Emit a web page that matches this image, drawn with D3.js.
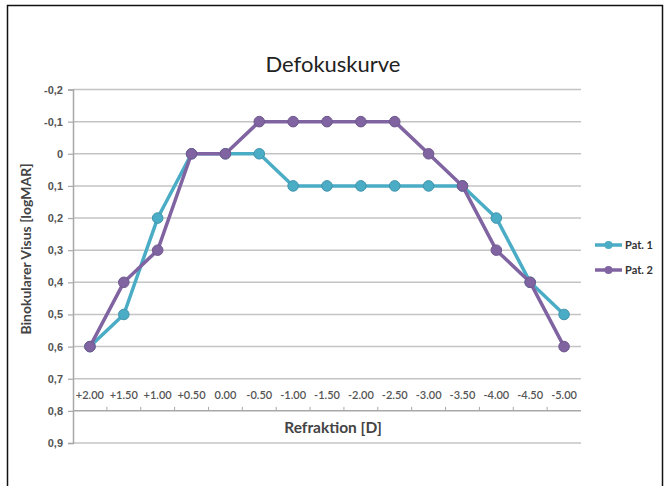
<!DOCTYPE html>
<html><head><meta charset="utf-8">
<script src="https://cdn.jsdelivr.net/npm/d3@7"></script>
<style>
html,body{margin:0;padding:0;background:#fff;}
svg{display:block;font-family:Lato,"Open Sans",sans-serif;}
</style></head>
<body>
<svg id="chart" width="668" height="486"></svg>
<script>
const categories = ["+2.00","+1.50","+1.00","+0.50","0.00","-0.50","-1.00","-1.50","-2.00","-2.50","-3.00","-3.50","-4.00","-4.50","-5.00"];
const pat1 = [0.6,0.5,0.2,0,0,0,0.1,0.1,0.1,0.1,0.1,0.1,0.2,0.4,0.5];
const pat2 = [0.6,0.4,0.3,0,0,-0.1,-0.1,-0.1,-0.1,-0.1,0,0.1,0.3,0.4,0.6];
const yTicks = [-0.2,-0.1,0,0.1,0.2,0.3,0.4,0.5,0.6,0.7,0.8,0.9];
const seriesNames = ["Pat. 1","Pat. 2"];
const colors = ["#4bacc6","#8064a2"];

const svg = d3.select("#chart");
// outer frame
svg.append("rect").attr("x",7.5).attr("y",5.5).attr("width",655).attr("height",490)
  .attr("fill","none").attr("stroke","#111").attr("stroke-width",1.5);

const x = d3.scaleBand().domain(categories).range([73,581]).padding(0);
const y = d3.scaleLinear().domain([-0.2,0.9]).range([89.5,443]);

// gridlines
svg.append("g").selectAll("line").data(yTicks.filter(v=>v!==0.8)).join("line")
  .attr("x1",73).attr("x2",581).attr("y1",d=>y(d)).attr("y2",d=>y(d))
  .attr("stroke","#c4c4c4").attr("stroke-width",1.5);

// y axis
const yAxis = d3.axisLeft(y).tickValues(yTicks).tickSize(5).tickPadding(5)
  .tickFormat(d=>d3.format(".1f")(d).replace(".",",").replace("0,0","0").replace("−","-"));
const gy = svg.append("g").attr("transform","translate(73,0)").call(yAxis);
gy.select(".domain").attr("stroke","#a8a8a8").attr("stroke-width",1.5);
gy.selectAll(".tick line").attr("stroke","#a8a8a8").attr("stroke-width",1.2);
gy.selectAll("text").attr("fill","#555").attr("font-size",11).attr("font-weight",600);

// x axis at 0.8, labels above, ticks at boundaries going up
const gx = svg.append("g");
gx.append("line").attr("x1",73).attr("x2",581).attr("y1",y(0.8)).attr("y2",y(0.8))
  .attr("stroke","#a8a8a8").attr("stroke-width",1.5);
gx.selectAll("line.tk").data(categories.slice(1)).join("line").attr("class","tk")
  .attr("x1",d=>x(d)).attr("x2",d=>x(d)).attr("y1",y(0.8)).attr("y2",y(0.8)-4)
  .attr("stroke","#a8a8a8").attr("stroke-width",1);
gx.selectAll("text").data(categories).join("text")
  .attr("x",d=>x(d)+x.bandwidth()/2).attr("y",y(0.75)+4)
  .attr("text-anchor","middle").attr("fill","#555").attr("font-size",11).attr("font-weight",600)
  .text(d=>d);

// titles
svg.append("text").attr("x",333).attr("y",72).attr("text-anchor","middle")
  .attr("font-size",22).attr("fill","#222").text("Defokuskurve");
svg.append("text").attr("x",333).attr("y",433).attr("text-anchor","middle")
  .attr("font-size",15.5).attr("font-weight",700).attr("fill","#444").text("Refraktion [D]");
svg.append("text").attr("transform","translate(31,249) rotate(-90)").attr("text-anchor","middle")
  .attr("font-size",14).attr("font-weight",700).attr("fill","#444").text("Binokularer Visus [logMAR]");

// series
const line = d3.line().x((d,i)=>x(categories[i])+x.bandwidth()/2).y(d=>y(d));
[pat1,pat2].forEach((s,k)=>{
  svg.append("path").datum(s).attr("d",line).attr("fill","none")
    .attr("stroke",colors[k]).attr("stroke-width",3.5).attr("stroke-linejoin","round");
  svg.append("g").selectAll("circle").data(s).join("circle")
    .attr("cx",(d,i)=>x(categories[i])+x.bandwidth()/2).attr("cy",d=>y(d)).attr("r",5.3)
    .attr("fill",colors[k]).attr("stroke",d3.color(colors[k]).darker(0.4)).attr("stroke-width",1);
});

// legend
const leg = svg.append("g");
seriesNames.forEach((n,k)=>{
  const ly = 245 + k*25;
  leg.append("line").attr("x1",595).attr("x2",622).attr("y1",ly).attr("y2",ly)
    .attr("stroke",colors[k]).attr("stroke-width",3.5);
  leg.append("circle").attr("cx",608.5).attr("cy",ly).attr("r",4).attr("fill",colors[k]);
  leg.append("text").attr("x",625).attr("y",ly+4).attr("font-size",11).attr("font-weight",700)
    .attr("fill","#333").text(n);
});
</script>
</body></html>
